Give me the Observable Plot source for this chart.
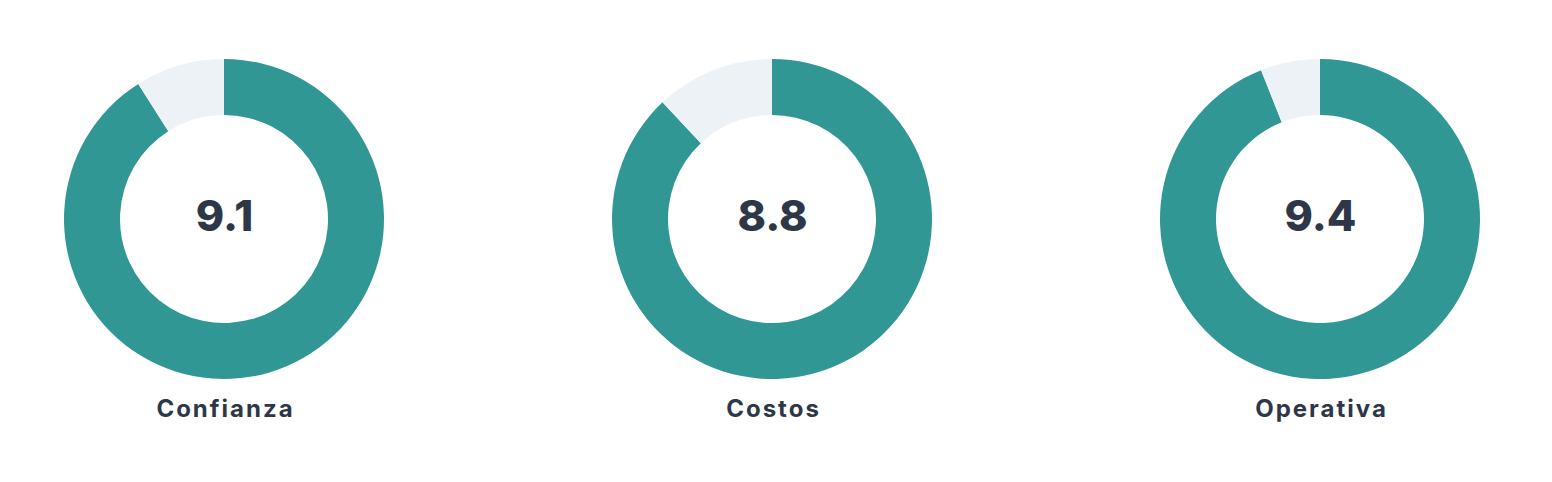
<!DOCTYPE html>
<html>
<head>
<meta charset="utf-8">
<script src="https://cdn.jsdelivr.net/npm/d3@7"></script>
<script src="https://cdn.jsdelivr.net/npm/@observablehq/plot@0.6"></script>
<style>
  html, body { margin: 0; padding: 0; background: #ffffff; }
  #chart { width: 1552px; height: 482px; }
</style>
</head>
<body>
<div id="chart"></div>
<script>
const categories = ["Confianza", "Costos", "Operativa"];
const scores = [9.1, 8.8, 9.4];
const maxScore = 10;
const valueLabels = ["9.1", "8.8", "9.4"];

const data = categories.map((c, i) => ({cat: c, score: scores[i], label: valueLabels[i]}));

const teal = "#319795";
const track = "#EDF2F7";
const ink = "#2D3748";
const innerR = 104, outerR = 160;

const angle = d3.scaleLinear().domain([0, maxScore]).range([0, 2 * Math.PI]);

function donutRender(index, scales, values, dimensions, context) {
  const g = d3.create("svg:g");
  const arc = d3.arc().innerRadius(innerR).outerRadius(outerR);
  for (const i of index) {
    const cx = values.x[i], cy = values.y[i];
    const a = angle(data[i].score);
    const gi = g.append("g").attr("transform", `translate(${cx},${cy})`);
    gi.append("path").attr("fill", teal).attr("d", arc({startAngle: 0, endAngle: a}));
    gi.append("path").attr("fill", track).attr("d", arc({startAngle: a, endAngle: 2 * Math.PI}));
  }
  return g.node();
}

function spaced(ls) {
  return (index, scales, values, dimensions, context, next) => {
    const g = next(index, scales, values, dimensions, context);
    g.setAttribute("letter-spacing", ls);
    return g;
  };
}

const chart = Plot.plot({
  width: 1552,
  height: 482,
  margin: 0,
  x: {type: "point", domain: categories, range: [224, 1320], padding: 0, axis: null},
  y: {type: "point", domain: ["ring", "name"], range: [219, 409], padding: 0, axis: null},
  marks: [
    Plot.dot(data, {x: "cat", y: () => "ring", render: donutRender}),
    Plot.text(data, {
      x: "cat", y: () => "ring", text: "label",
      fill: ink, fontSize: 43, fontWeight: 800,
      fontFamily: "Inter, 'Open Sans', sans-serif",
      dy: -2
    }),
    Plot.text(data, {
      x: "cat", y: () => "name", text: "cat",
      fill: ink, fontSize: 24, fontWeight: 700,
      fontFamily: "Inter, 'Open Sans', sans-serif",
      dx: 1,
      render: spaced(2)
    })
  ]
});
document.getElementById("chart").append(chart);
</script>
</body>
</html>
